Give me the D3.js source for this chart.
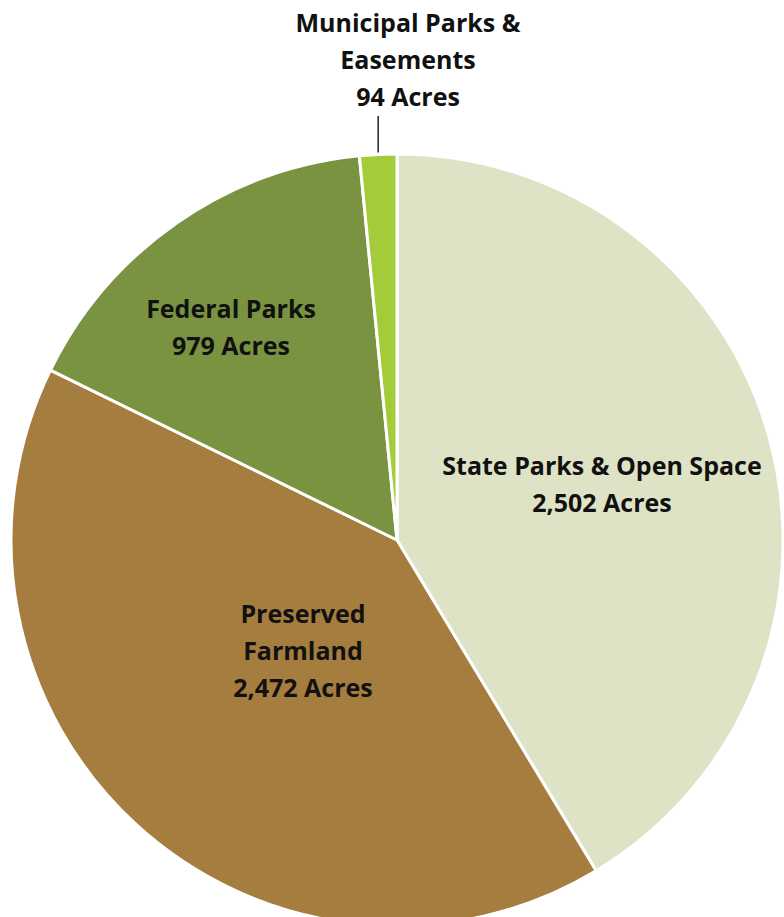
<!doctype html>
<html>
<head>
<meta charset="utf-8">
<script src="https://cdn.jsdelivr.net/npm/d3@7"></script>
<style>
  html, body { margin: 0; padding: 0; background: #fff; }
  svg { display: block; }
</style>
</head>
<body>
<script>
// land categories, clockwise from 12 o'clock
const categories = ["State Parks & Open Space", "Preserved Farmland", "Federal Parks", "Municipal Parks & Easements"];
const acres = [2502, 2472, 979, 94];
const labelLines = [
  ["State Parks & Open Space", "2,502 Acres"],
  ["Preserved", "Farmland", "2,472 Acres"],
  ["Federal Parks", "979 Acres"],
  ["Municipal Parks &", "Easements", "94 Acres"]
];
const colors = ["#dfe3c6", "#a57d3e", "#7a9340", "#a4cc3a"];

const width = 784, height = 917;
const cx = 397, cy = 540, r = 386;

// where each label block starts (first line baseline)
const labelAt = [[602, 475], [303, 623], [231, 318], [408, 32]];
const lineH = 37;

const svg = d3.select("body").append("svg")
    .attr("width", width)
    .attr("height", height);

const pie = d3.pie().sort(null).value((d) => d)(acres);
const arc = d3.arc().innerRadius(0).outerRadius(r);

const g = svg.append("g").attr("transform", `translate(${cx},${cy})`);

g.selectAll("path")
  .data(pie)
  .join("path")
    .attr("d", arc)
    .attr("fill", (d, i) => colors[i])
    .attr("stroke", "#fff")
    .attr("stroke-width", 3)
    .attr("stroke-linejoin", "round");

// leader line for the small slice
const small = pie[3];
const mid = (small.startAngle + small.endAngle) / 2;
svg.append("line")
    .attr("x1", cx + r * Math.sin(mid))
    .attr("x2", cx + r * Math.sin(mid))
    .attr("y1", cy - r * Math.cos(mid) - 2)
    .attr("y2", 116)
    .attr("stroke", "#222")
    .attr("stroke-width", 1.5);

const labels = svg.append("g")
    .attr("font-family", "'Open Sans', sans-serif")
    .attr("font-weight", "bold")
    .attr("font-size", 25)
    .attr("fill", "#111")
    .attr("text-anchor", "middle");

labelLines.forEach((lines, i) => {
  const t = labels.append("text")
      .attr("x", labelAt[i][0])
      .attr("y", labelAt[i][1]);
  lines.forEach((s, j) => {
    t.append("tspan")
        .attr("x", labelAt[i][0])
        .attr("dy", j ? lineH : 0)
        .text(s);
  });
});
</script>
</body>
</html>
